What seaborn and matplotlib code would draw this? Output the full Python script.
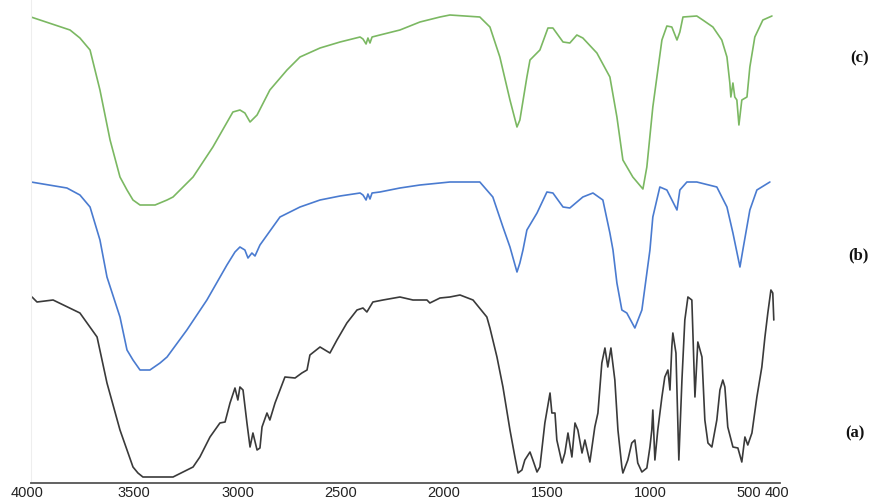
import matplotlib
matplotlib.use("Agg")
import matplotlib.pyplot as plt
import matplotlib.transforms as mtransforms
import seaborn as sns
import pandas as pd

# ---------------- data (wavenumber cm-1, transmittance a.u., offset stacked) ----------------
wn_c = [4000, 3811, 3763, 3714, 3666, 3617, 3569, 3535, 3506, 3472, 3399, 3341, 3312, 3215,
        3119, 3022, 2988, 2964, 2939, 2905, 2843, 2760, 2697, 2600, 2503, 2406, 2392, 2377,
        2368, 2358, 2348, 2310, 2213, 2116, 2019, 1971, 1826, 1777, 1729, 1680, 1646, 1632,
        1598, 1583, 1535, 1496, 1472, 1423, 1390, 1356, 1327, 1259, 1196, 1162, 1133, 1085,
        1036, 1017, 988, 944, 920, 896, 871, 857, 842, 775, 746, 697, 654, 629, 615, 610,
        600, 591, 581, 571, 557, 532, 518, 494, 455, 411]
t_c = [466, 453, 445, 433, 393, 343, 306, 293, 283, 278, 278, 283, 286, 306,
       336, 371, 373, 370, 361, 368, 393, 413, 426, 435, 441, 446, 444, 439,
       445, 440, 446, 448, 453, 461, 466, 468, 466, 456, 426, 383, 356, 363,
       406, 423, 433, 455, 455, 441, 440, 448, 445, 430, 406, 366, 323, 306,
       294, 316, 376, 443, 457, 456, 443, 451, 466, 467, 463, 456, 443, 426, 400, 386,
       400, 386, 383, 358, 383, 386, 416, 446, 463, 467]

wn_b = [4000, 3826, 3763, 3714, 3666, 3632, 3569, 3535, 3506, 3472, 3424, 3375, 3341, 3245,
        3148, 3051, 3012, 2988, 2964, 2949, 2930, 2915, 2891, 2794, 2697, 2600, 2503, 2406,
        2392, 2377, 2368, 2358, 2348, 2310, 2213, 2116, 2019, 1971, 1826, 1763, 1714, 1680,
        1646, 1632, 1617, 1598, 1549, 1501, 1472, 1423, 1390, 1327, 1278, 1230, 1196, 1181,
        1162, 1138, 1114, 1075, 1041, 1002, 988, 954, 920, 871, 857, 823, 775, 678, 629,
        600, 566, 552, 518, 484, 421]
t_b = [301, 295, 288, 276, 243, 206, 166, 133, 123, 113, 113, 120, 126, 153,
       183, 218, 231, 236, 233, 225, 230, 227, 238, 266, 276, 283, 287, 290,
       288, 283, 289, 284, 290, 291, 295, 298, 300, 301, 301, 286, 256, 236,
       211, 220, 233, 253, 270, 291, 290, 276, 275, 286, 290, 283, 250, 233,
       200, 173, 170, 155, 173, 233, 266, 296, 293, 273, 293, 301, 301, 296, 276,
       250, 216, 233, 273, 293, 301]

wn_a = [3995, 3971, 3893, 3763, 3680, 3632, 3569, 3535, 3506, 3482, 3458, 3312, 3215, 3182,
        3133, 3085, 3060, 3036, 3012, 2998, 2988, 2973, 2954, 2939, 2925, 2905, 2891, 2881,
        2857, 2843, 2818, 2794, 2770, 2721, 2688, 2663, 2649, 2600, 2552, 2518, 2470, 2421,
        2392, 2373, 2344, 2295, 2213, 2150, 2082, 2068, 2019, 1971, 1922, 1859, 1792, 1777,
        1743, 1714, 1680, 1656, 1641, 1622, 1608, 1583, 1569, 1549, 1535, 1511, 1486, 1477,
        1462, 1453, 1428, 1414, 1399, 1380, 1365, 1351, 1331, 1317, 1293, 1269, 1254, 1235,
        1220, 1206, 1191, 1172, 1157, 1138, 1133, 1109, 1090, 1075, 1061, 1041, 1017, 1002,
        993, 988, 978, 964, 944, 930, 915, 905, 896, 891, 876, 862, 847, 833, 818, 799,
        794, 784, 770, 750, 736, 721, 702, 678, 663, 649, 639, 625, 600, 576, 557, 542,
        528, 508, 484, 460, 445, 431, 416, 407, 402]
t_a = [186, 181, 183, 170, 146, 100, 53, 33, 16, 10, 6, 6, 16, 26,
       46, 60, 61, 80, 95, 83, 96, 93, 60, 36, 50, 33, 35, 56,
       70, 63, 80, 93, 106, 105, 110, 113, 128, 136, 130, 143, 160, 173,
       175, 171, 181, 183, 186, 183, 183, 180, 185, 186, 188, 183, 166, 155,
       126, 96, 53, 26, 10, 13, 23, 31, 23, 11, 16, 60, 90, 70,
       70, 43, 20, 30, 50, 26, 60, 53, 30, 43, 21, 56, 70, 120,
       135, 116, 135, 103, 53, 16, 10, 23, 40, 43, 20, 11, 15, 36,
       53, 73, 23, 53, 86, 106, 113, 93, 136, 150, 130, 23, 103, 163, 186, 183,
       153, 86, 141, 126, 63, 40, 36, 63, 93, 103, 96, 56, 36, 35, 21, 46,
       38, 50, 86, 116, 146, 170, 193, 190, 163]

tick_vals = [4000, 3500, 3000, 2500, 2000, 1500, 1000, 500, 400]
tick_labels = ["4000", "3500", "3000", "2500", "2000", "1500", "1000", "500", "400"]
series_labels = ["(c)", "(b)", "(a)"]
colors = ["#7bb862", "#4a7bd0", "#3a3a3a"]

# ---------------- figure ----------------
sns.set_style("white")
plt.rcParams["font.family"] = ["Liberation Sans", "DejaVu Sans"]

fig = plt.figure(figsize=(8.76, 5.0), dpi=100)
W, H = 876, 500
ax = fig.add_axes([31 / W, (H - 483) / H, (780 - 31) / W, 483 / H])

frames = [
    pd.DataFrame({"wn": wn_c, "t": t_c}),
    pd.DataFrame({"wn": wn_b, "t": t_b}),
    pd.DataFrame({"wn": wn_a, "t": t_a}),
]
for df, col in zip(frames, colors):
    sns.lineplot(data=df, x="wn", y="t", ax=ax, color=col, linewidth=1.2,
                 estimator=None, sort=True)

ax.set_xlim(4000, 372)
ax.set_ylim(0, 483)
ax.set_xlabel("")
ax.set_ylabel("")
ax.set_yticks([])
ax.set_xticks(tick_vals)
ax.set_xticklabels(tick_labels, fontsize=10.5, color="#222222")
ax.tick_params(axis="x", direction="inout", length=5, width=1, color="#555555", pad=0)

# nudge the crowded 500 / 400 labels apart, and 4000 slightly left as in the original
shifts = {"4000": -4, "500": -5, "400": 3}
for lab in ax.get_xticklabels():
    dx = shifts.get(lab.get_text(), 0)
    if dx:
        lab.set_transform(lab.get_transform() +
                          mtransforms.ScaledTranslation(dx / 100, 0, fig.dpi_scale_trans))

for s in ["top", "right"]:
    ax.spines[s].set_visible(False)
ax.spines["bottom"].set_color("#555555")
ax.spines["bottom"].set_linewidth(1.3)
ax.spines["left"].set_color("#eeeeee")
ax.spines["left"].set_linewidth(0.8)

# series labels
label_pos = [(860, 58), (858, 255), (855, 433)]
for lab, (px, py) in zip(series_labels, label_pos):
    fig.text(px / W, 1 - py / H, lab, ha="center", va="center", fontsize=12,
             fontweight="bold", family=["Liberation Serif", "DejaVu Serif"], color="#111111")

fig.savefig("out.png", dpi=100)
